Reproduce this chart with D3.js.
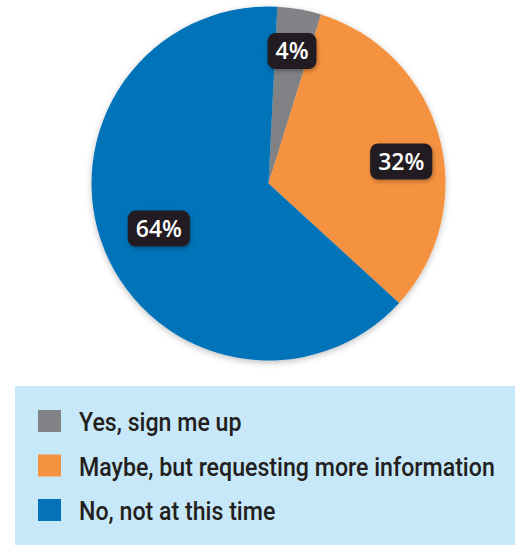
<!DOCTYPE html>
<html>
<head>
<meta charset="utf-8">
<script src="https://cdn.jsdelivr.net/npm/d3@7"></script>
<style>
  body { margin: 0; background: #fff; }
</style>
</head>
<body>
<script>
const width = 515;
const height = 545;

// data
const categories = ["Yes, sign me up", "Maybe, but requesting more information", "No, not at this time"];
const values = [4, 32, 64];
const colors = ["#808285", "#f59240", "#0673b9"];

const cx = 268.5;
const cy = 183.5;
const radius = 177;

let svg = d3
  .select("body")
  .append("svg")
  .attr("width", width)
  .attr("height", height);

let defs = svg.append("defs");
defs
  .append("filter")
  .attr("id", "pie-shadow")
  .attr("x", "-10%")
  .attr("y", "-10%")
  .attr("width", "120%")
  .attr("height", "120%")
  .append("feDropShadow")
  .attr("dx", 0)
  .attr("dy", 2)
  .attr("stdDeviation", 3)
  .attr("flood-color", "#000")
  .attr("flood-opacity", 0.25);

defs
  .append("filter")
  .attr("id", "label-shadow")
  .attr("x", "-30%")
  .attr("y", "-30%")
  .attr("width", "160%")
  .attr("height", "160%")
  .append("feDropShadow")
  .attr("dx", 1)
  .attr("dy", 2)
  .attr("stdDeviation", 2)
  .attr("flood-color", "#000")
  .attr("flood-opacity", 0.3);

let data = categories.map((c, i) => ({ cat: c, value: values[i], color: colors[i] }));

let pie = d3
  .pie()
  .value((d) => d.value)
  .sort(null)
  .startAngle(0.05)
  .endAngle(0.05 + 2 * Math.PI);

let arcs = pie(data);

let arc = d3.arc().innerRadius(0).outerRadius(radius);

// label placement: small slices get their label further out
function labelPos(d) {
  let r = d.index === 0 ? radius * 0.76 : d.index === 1 ? radius * 0.76 : radius * 0.67;
  let a = (d.startAngle + d.endAngle) / 2;
  if (d.index === 1) a += 0.1;
  return [r * Math.sin(a), -r * Math.cos(a)];
}

let pieGroup = svg
  .append("g")
  .attr("id", "pie")
  .attr("transform", `translate(${cx}, ${cy})`);

pieGroup
  .append("g")
  .attr("filter", "url(#pie-shadow)")
  .selectAll("path")
  .data(arcs)
  .join("path")
  .attr("d", arc)
  .attr("fill", (d) => d.data.color);

// percentage labels
let labels = pieGroup
  .selectAll("g.label")
  .data(arcs)
  .join("g")
  .attr("class", "label")
  .attr("transform", (d) => `translate(${labelPos(d)})`);

labels
  .append("text")
  .attr("text-anchor", "middle")
  .attr("dy", "0.36em")
  .attr("fill", "#fff")
  .style("font-family", "'Open Sans', sans-serif")
  .style("font-weight", 600)
  .style("font-size", "23px")
  .text((d) => d.data.value + "%");

labels.each(function () {
  let g = d3.select(this);
  let bb = g.select("text").node().getBBox();
  g.insert("rect", "text")
    .attr("x", bb.x - 8)
    .attr("y", -18)
    .attr("width", bb.width + 16)
    .attr("height", 36)
    .attr("rx", 8)
    .attr("fill", "#231f20")
    .attr("filter", "url(#label-shadow)");
});

// legend
let legend = svg.append("g").attr("id", "legend");

legend
  .append("rect")
  .attr("x", 15)
  .attr("y", 386)
  .attr("width", width - 15)
  .attr("height", height - 386)
  .attr("fill", "#c7e8f8");

let rowY = d3
  .scalePoint()
  .domain(categories)
  .range([421, 510]);

let items = legend
  .selectAll("g.item")
  .data(data)
  .join("g")
  .attr("class", "item")
  .attr("transform", (d) => `translate(0, ${rowY(d.cat)})`);

items
  .append("rect")
  .attr("x", 38)
  .attr("y", -11)
  .attr("width", 23)
  .attr("height", 22)
  .attr("fill", (d) => d.color);

let legendText = items
  .append("text")
  .attr("x", 79)
  .attr("y", 10)
  .attr("fill", "#231f20")
  .style("font-family", "Roboto, sans-serif")
  .style("font-weight", 500)
  .style("font-size", "25px")
  .text((d) => d.cat);

// squeeze the text to a condensed look
let longest = d3.max(legendText.nodes(), (n) => n.getComputedTextLength());
let squeeze = 416 / longest;
legendText.attr("transform", `translate(79, 0) scale(${squeeze}, 1) translate(-79, 0)`);
</script>
</body>
</html>
